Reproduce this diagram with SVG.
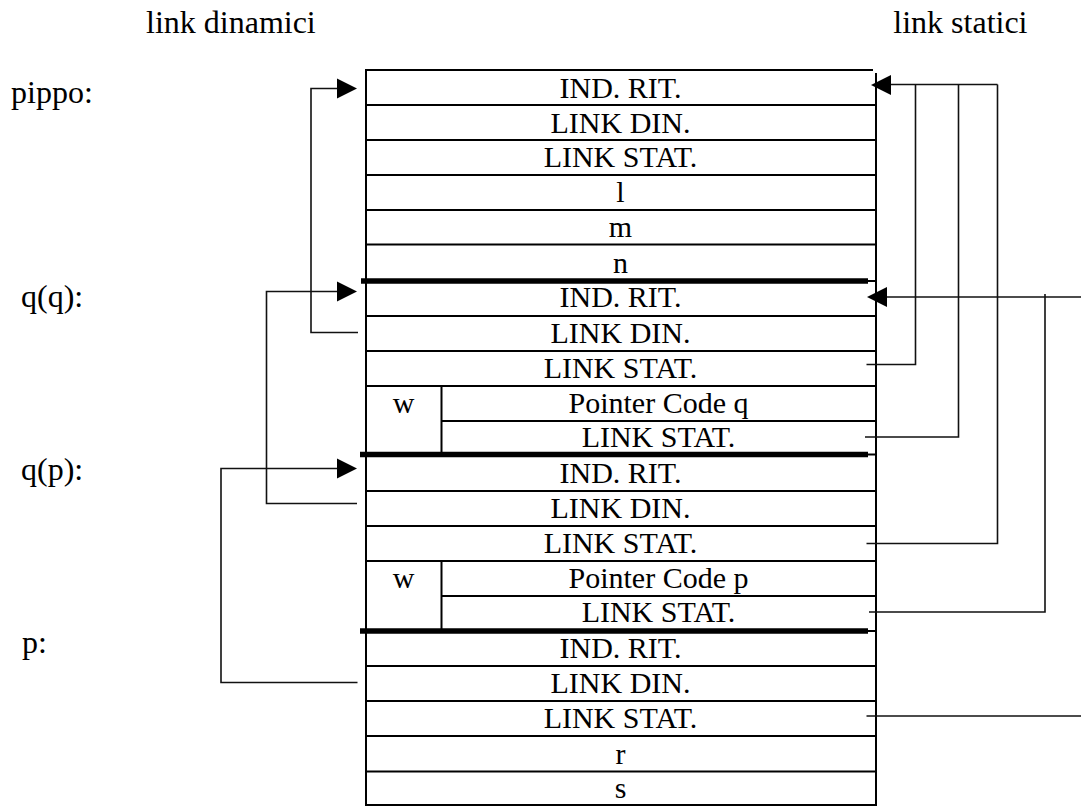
<svg xmlns="http://www.w3.org/2000/svg" width="1081" height="806" viewBox="0 0 1081 806">
<style>
.t{font-family:"Liberation Serif","Times New Roman",serif;font-size:30px;fill:#000}
.c{text-anchor:middle}
.lbl{font-family:"Liberation Serif","Times New Roman",serif;font-size:32px;fill:#000}
.ln{stroke:#000;stroke-width:2;fill:none}
.thick{stroke:#000;stroke-width:5.5;fill:none}
.con{stroke:#111;stroke-width:1.6;fill:none}
.ah{fill:#000}
</style>
<rect width="1081" height="806" fill="#fff"/>
<g id="headers">
<text class="lbl" x="146" y="33">link dinamici</text>
<text class="lbl" x="1027.5" y="33" text-anchor="end">link statici</text>
</g>
<g id="labels">
<text class="lbl" x="11" y="103">pippo:</text>
<text class="lbl" x="21" y="307">q(q):</text>
<text class="lbl" x="21" y="480">q(p):</text>
<text class="lbl" x="22" y="653">p:</text>
</g>
<g id="table-border">
<path class="ln" d="M366,70 H873"/>
<path class="ln" d="M366,69 V806"/>
<path class="ln" d="M876,73 V806"/>
<path class="ln" d="M366,805 H876"/>
</g>
<g id="frame-pippo">
<path class="ln" d="M366,105 H876 M366,140 H876 M366,175 H876 M366,210 H876 M366,244.5 H876 M366,281 H876"/>
<path class="thick" d="M361,281 H868"/>
<text class="t c" x="620.5" y="98">IND. RIT.</text>
<text class="t c" x="620.5" y="133">LINK DIN.</text>
<text class="t c" x="620.5" y="167">LINK STAT.</text>
<text class="t c" x="620.5" y="202">l</text>
<text class="t c" x="620.5" y="237">m</text>
<text class="t c" x="620.5" y="273">n</text>
</g>
<g id="frame-qq">
<path class="ln" d="M366,316 H876 M366,351 H876 M366,386 H876 M441,421 H876 M441.5,386 V454 M366,454.5 H876"/>
<path class="thick" d="M360,454.5 H868"/>
<text class="t c" x="620.5" y="307">IND. RIT.</text>
<text class="t c" x="620.5" y="343">LINK DIN.</text>
<text class="t c" x="620.5" y="378">LINK STAT.</text>
<text class="t c" x="403.5" y="413">w</text>
<text class="t c" x="658.5" y="413">Pointer Code q</text>
<text class="t c" x="658.5" y="447">LINK STAT.</text>
</g>
<g id="frame-qp">
<path class="ln" d="M366,491 H876 M366,526 H876 M366,561 H876 M441,596 H876 M441.5,561 V631 M366,631 H876"/>
<path class="thick" d="M360,631 H868"/>
<text class="t c" x="620.5" y="483">IND. RIT.</text>
<text class="t c" x="620.5" y="518">LINK DIN.</text>
<text class="t c" x="620.5" y="553">LINK STAT.</text>
<text class="t c" x="403.5" y="588">w</text>
<text class="t c" x="658.5" y="588">Pointer Code p</text>
<text class="t c" x="658.5" y="622">LINK STAT.</text>
</g>
<g id="frame-p">
<path class="ln" d="M366,666 H876 M366,701 H876 M366,736 H876 M366,771.5 H876"/>
<text class="t c" x="620.5" y="658">IND. RIT.</text>
<text class="t c" x="620.5" y="693">LINK DIN.</text>
<text class="t c" x="620.5" y="728">LINK STAT.</text>
<text class="t c" x="620.5" y="764">r</text>
<text class="t c" x="620.5" y="798">s</text>
</g>
<g id="connectors">
<path class="con" d="M358,332.5 H311 V88.5 H340"/>
<path class="ah" d="M357,88.5 L337,78.5 L337,98.5 Z"/>
<path class="con" d="M357,503.5 H266.5 V291.5 H340"/>
<path class="ah" d="M357,291.5 L337,281.5 L337,301.5 Z"/>
<path class="con" d="M357.5,682.5 H221 V468.5 H340"/>
<path class="ah" d="M357,468.5 L337,458.5 L337,478.5 Z"/>
<path class="con" d="M888,84.5 H997.5"/>
<path class="ah" d="M871,85 L891,75 L891,95 Z"/>
<path class="con" d="M915.5,84.5 V364.5 H866.5"/>
<path class="con" d="M958.5,84.5 V437 H865"/>
<path class="con" d="M997.5,84.5 V543.5 H866.5"/>
<path class="con" d="M884,297 H1081"/>
<path class="ah" d="M867,297 L887,287 L887,307 Z"/>
<path class="con" d="M1045,294 V612 H869"/>
<path class="con" d="M866.5,716 H1081"/>
</g>
</svg>
